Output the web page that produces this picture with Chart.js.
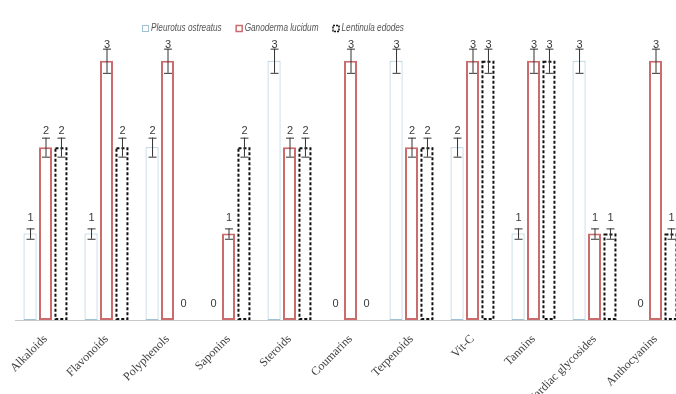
<!DOCTYPE html>
<html><head><meta charset="utf-8">
<script src="https://cdn.jsdelivr.net/npm/chart.js@4"></script>
<style>
html,body{margin:0;padding:0;background:#fff;overflow:hidden;}
#wrap{width:690px;height:394px;position:relative;}
</style></head><body>
<div id="wrap"><canvas id="c"></canvas></div>
<script>
// Phytochemical scores per compound class for three mushroom species
const categories = ['Alkaloids','Flavonoids','Polyphenols','Saponins','Steroids','Coumarins','Terpenoids','Vit-C','Tannins','Cardiac glycosides','Anthocyanins'];
const seriesNames = ['Pleurotus ostreatus','Ganoderma lucidum','Lentinula edodes'];
const pleurotus = [1,1,2,0,3,0,3,2,1,3,0];
const ganoderma = [2,3,3,1,2,3,2,3,3,1,3];
const lentinula = [2,2,0,2,2,0,2,3,3,1,1];
// error bar half-heights
const pleurotusErr = [0.06,0.06,0.11,0,0.14,0,0.14,0.11,0.06,0.14,0];
const ganodermaErr = [0.11,0.14,0.14,0.06,0.11,0.14,0.11,0.14,0.14,0.06,0.14];
const lentinulaErr = [0.11,0.11,0,0.11,0.11,0,0.11,0.14,0.14,0.06,0.06];

const extras = {
  id: 'extras',
  afterDatasetsDraw(chart) {
    const ctx = chart.ctx;
    const y = chart.scales.y;
    chart.data.datasets.forEach((ds, di) => {
      const meta = chart.getDatasetMeta(di);
      meta.data.forEach((el, i) => {
        const v = ds.data[i];
        const w = el.width;
        // dashed outline
        if (ds.dashed && v > 0) {
          ctx.save();
          ctx.strokeStyle = ds.dashColor;
          ctx.lineWidth = 2;
          ctx.setLineDash([3, 2]);
          ctx.strokeRect(el.x - w / 2 + 1, el.y + 1, w - 2, el.base - el.y - 2);
          ctx.restore();
        }
        // error bar
        const e = ds.err[i];
        if (v > 0 && e > 0) {
          const t = y.getPixelForValue(v + e), b = y.getPixelForValue(v - e);
          ctx.save();
          ctx.strokeStyle = '#333';
          ctx.lineWidth = 1;
          ctx.beginPath();
          ctx.moveTo(el.x + 0.5, t); ctx.lineTo(el.x + 0.5, b);
          ctx.moveTo(el.x - 3.5, t + 0.5); ctx.lineTo(el.x + 4.5, t + 0.5);
          ctx.moveTo(el.x - 3.5, b + 0.5); ctx.lineTo(el.x + 4.5, b + 0.5);
          ctx.stroke();
          ctx.restore();
        }
        // value label
        ctx.save();
        ctx.fillStyle = '#3a3a3a';
        ctx.font = '11px "Liberation Sans", sans-serif';
        ctx.textAlign = 'center';
        ctx.textBaseline = 'middle';
        ctx.fillText(String(v), el.x + 0.5, el.y - 16);
        ctx.restore();
      });
    });
  },
  afterDraw(chart, args, opts) {
    const ctx = chart.ctx;
    const sx = 0.82; // condensed legend text
    ctx.save();
    ctx.font = 'italic 10px "Liberation Sans", sans-serif';
    const box = 6, gap = 3, spacing = 14;
    const items = chart.data.datasets.map(ds => ({ ds, w: ctx.measureText(ds.label).width * sx }));
    const total = items.reduce((s, it) => s + box + gap + it.w, 0) + spacing * (items.length - 1);
    let x = opts.centerX - total / 2;
    const cy = opts.centerY;
    items.forEach(({ ds, w }) => {
      ctx.fillStyle = '#fff';
      ctx.fillRect(x, cy - box / 2, box, box);
      ctx.lineWidth = ds.dashed ? 1.5 : (ds.borderWidth > 1 ? 1.5 : 1);
      ctx.strokeStyle = ds.dashed ? ds.dashColor : ds.borderColor;
      if (ds.dashed) ctx.setLineDash([2, 1]); else ctx.setLineDash([]);
      ctx.strokeRect(x + 0.5, cy - box / 2 + 0.5, box, box);
      ctx.setLineDash([]);
      ctx.fillStyle = '#555';
      ctx.textBaseline = 'middle';
      ctx.textAlign = 'left';
      ctx.save();
      ctx.translate(x + box + gap, cy + 0.5);
      ctx.scale(sx, 1);
      ctx.fillText(ds.label, 0, 0);
      ctx.restore();
      x += box + gap + w + spacing;
    });
    ctx.restore();
  }
};

new Chart(document.getElementById('c'), {
  type: 'bar',
  data: {
    labels: categories,
    datasets: [
      { label: seriesNames[0], data: pleurotus, err: pleurotusErr, backgroundColor: '#fff', borderColor: '#9fc3d5', borderWidth: 1, borderSkipped: false },
      { label: seriesNames[1], data: ganoderma, err: ganodermaErr, backgroundColor: '#fff', borderColor: '#cc6b6b', borderWidth: 2, borderSkipped: false },
      { label: seriesNames[2], data: lentinula, err: lentinulaErr, backgroundColor: '#fff', borderColor: '#111', borderWidth: 0, dashed: true, dashColor: '#111', borderSkipped: false }
    ]
  },
  options: {
    responsive: true,
    maintainAspectRatio: false,
    animation: false,
    devicePixelRatio: 1,
    layout: { padding: { top: 40, left: 15, right: 4, bottom: 0 } },
    datasets: { bar: { categoryPercentage: 0.76, barPercentage: 0.84 } },
    plugins: {
      legend: { display: false },
      tooltip: { enabled: false },
      extras: { centerX: 273, centerY: 28 }
    },
    scales: {
      x: {
        grid: { display: false },
        border: { display: true, color: '#c8c8c8', width: 1 },
        ticks: {
          autoSkip: false, minRotation: 45, maxRotation: 45, padding: 4,
          color: '#404040',
          font: { family: '"Liberation Serif", serif', size: 12 }
        },
        afterFit(scale) { scale.height = 74; }
      },
      y: { display: false, min: 0, max: 3.24 }
    }
  },
  plugins: [extras]
});
</script>
</body></html>
